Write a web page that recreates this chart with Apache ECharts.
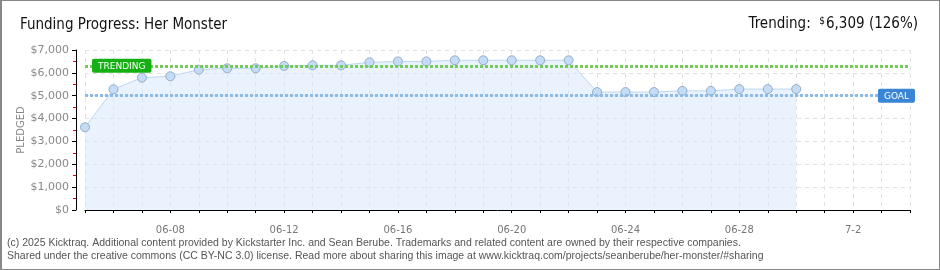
<!DOCTYPE html>
<html>
<head>
<meta charset="utf-8">
<script src="https://cdn.jsdelivr.net/npm/echarts@6/dist/echarts.min.js"></script>
<style>
html,body{margin:0;padding:0;background:#fff;}
#wrap{position:relative;width:940px;height:270px;}
#chart{position:absolute;left:0;top:0;width:940px;height:270px;}
#border{position:absolute;left:0;top:0;width:940px;height:270px;box-sizing:border-box;border:1px solid #888;border-left-width:2px;pointer-events:none;}
</style>
</head>
<body>
<div id="wrap"><div id="chart"></div><div id="border"></div></div>
<script>
const titleText = 'Funding Progress: Her Monster';
const days = ['06-05','06-06','06-07','06-08','06-09','06-10','06-11','06-12','06-13','06-14',
  '06-15','06-16','06-17','06-18','06-19','06-20','06-21','06-22','06-23','06-24',
  '06-25','06-26','06-27','06-28','06-29','06-30','7-1','7-2','7-3','7-4'];
const pledged = [3620, 5280, 5790, 5850, 6140, 6200, 6200, 6300, 6330, 6330,
  6460, 6500, 6500, 6550, 6550, 6550, 6550, 6550, 5160, 5160,
  5160, 5210, 5210, 5290, 5290, 5290];
const goalValue = 5000;
const trendingValue = 6309;
const footer1 = '(c) 2025 Kicktraq. Additional content provided by Kickstarter Inc. and Sean Berube. Trademarks and related content are owned by their respective companies.';
const footer2 = 'Shared under the creative commons (CC BY-NC 3.0) license. Read more about sharing this image at www.kicktraq.com/projects/seanberube/her-monster/#sharing';

const fmt = v => '$' + v.toLocaleString('en-US');
const pct = Math.round(trendingValue / goalValue * 100);
const FONT = 'DejaVu Sans';
const COND = 'DejaVu Sans Condensed';

const chart = echarts.init(document.getElementById('chart'), null, {renderer: 'canvas'});
chart.setOption({
  animation: false,
  backgroundColor: '#fff',
  title: [{
    text: titleText, left: 20, top: 18, padding: 0,
    textStyle: {fontFamily: COND, fontSize: 15, fontWeight: 'normal', color: '#111'}
  }, {
    text: '{a|Trending:  }{s|$}{a|' + trendingValue.toLocaleString('en-US') + ' (' + pct + '%)}',
    right: 22, top: 16, padding: 0,
    textStyle: {fontWeight: 'normal', rich: {
      a: {fontFamily: COND, fontSize: 15, fontWeight: 'normal', color: '#111'},
      s: {fontFamily: COND, fontSize: 10, fontWeight: 'normal', color: '#111', verticalAlign: 'top', padding: [0, 1, 6, 0]}
    }}
  }],
  graphic: [
    {type: 'text', left: 7, top: 238, style: {text: footer1, font: '10.5px "Liberation Sans"', fill: '#555'}},
    {type: 'text', left: 7, top: 251, style: {text: footer2, font: '10.5px "Liberation Sans"', fill: '#555'}}
  ],
  grid: {left: 85, right: 30, top: 50, bottom: 60, containLabel: false},
  xAxis: {
    type: 'category', data: days, boundaryGap: false, offset: 10,
    axisLine: {lineStyle: {color: '#000', width: 1}},
    axisTick: {show: true, interval: 0, length: 3, lineStyle: {color: '#000'}},
    axisLabel: {
      interval: (i) => i >= 3 && (i - 3) % 4 === 0,
      color: '#777', fontSize: 10, fontFamily: FONT, margin: 5
    },
    splitLine: {show: true, interval: 0, lineStyle: {color: '#e2e2e2', type: [4, 4]}}
  },
  yAxis: {
    type: 'value', min: 0, max: 7000, interval: 1000, offset: 9,
    name: 'PLEDGED', nameLocation: 'middle', nameGap: 50, nameMoveOverlap: false,
    nameTextStyle: {color: '#888', fontSize: 10, fontFamily: FONT},
    axisLine: {show: true, lineStyle: {color: '#000'}},
    axisTick: {show: true, length: 4, lineStyle: {color: '#000'}},
    minorTick: {show: true, splitNumber: 2, length: 3, lineStyle: {color: '#e00'}},
    axisLabel: {formatter: v => fmt(v), color: '#888', fontSize: 11, fontFamily: FONT, margin: 7},
    splitLine: {show: true, lineStyle: {color: '#e2e2e2', type: [4, 4]}}
  },
  series: [{
    type: 'line', data: pledged,
    symbol: 'circle', symbolSize: 9, showSymbol: true,
    lineStyle: {color: '#bcd7f3', width: 1},
    itemStyle: {color: '#c5dcf6', borderColor: '#94acc9', borderWidth: 1},
    areaStyle: {color: '#d6e8fb', opacity: 0.5},
    z: 3,
    markLine: {
      silent: true, symbol: 'none',
      data: [
        {yAxis: trendingValue,
         lineStyle: {color: '#72cc5c', width: 3, type: [3, 2]},
         label: {formatter: 'TRENDING', position: 'insideStartTop', distance: -7,
                 color: '#fff', backgroundColor: '#14b014', padding: [3, 6, 2, 6], borderRadius: 2,
                 fontFamily: FONT, fontSize: 9, offset: [14, 0]}},
        {yAxis: goalValue,
         lineStyle: {color: '#8cbbea', width: 3, type: [3, 2]},
         label: {formatter: 'GOAL', position: 'insideEndTop', distance: -7,
                 color: '#fff', backgroundColor: '#3a86d4', padding: [3, 6, 2, 6], borderRadius: 2,
                 fontFamily: FONT, fontSize: 9, offset: [-2, 0]}}
      ]
    }
  }]
});
</script>
</body>
</html>
